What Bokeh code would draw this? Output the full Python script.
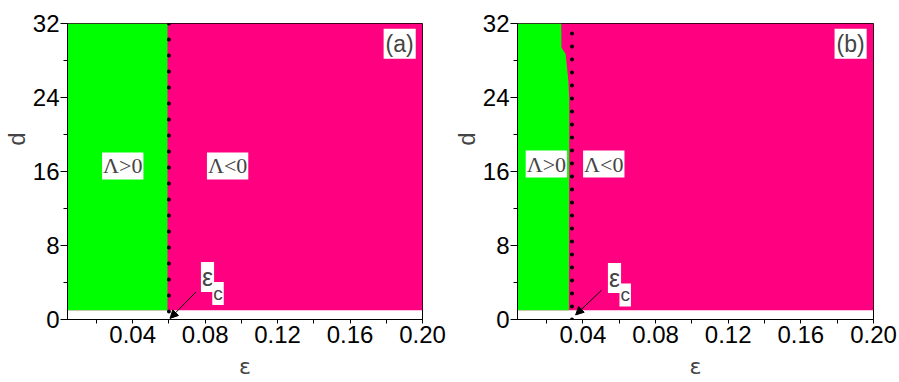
import math
from bokeh.plotting import figure
from bokeh.models import Label, Arrow, NormalHead, FixedTicker, Range1d, Title
from bokeh.layouts import row
from bokeh.embed import file_html
from bokeh.resources import INLINE

# ---------------- data ----------------
EPS_MIN, EPS_MAX = 0.004, 0.20
D_MIN, D_MAX = 0.0, 32.0
D_LOW = 1.0  # smallest d in the computed map

x_major = [0.04, 0.08, 0.12, 0.16, 0.20]
x_minor = [0.02, 0.06, 0.10, 0.14, 0.18]
y_major = [0, 8, 16, 24, 32]
y_minor = [4, 12, 20, 28]

# panel (a): boundary between Lambda>0 and Lambda<0
bound_a_d = [1.0, 32.0]
bound_a_eps = [0.0592, 0.0592]
eps_c_a = 0.060

# panel (b)
bound_b_d = [1.0, 23.7, 25.8, 28.7, 29.4, 32.0]
bound_b_eps = [0.0323, 0.0325, 0.0320, 0.0305, 0.0282, 0.0281]
eps_c_b = 0.034

GREEN = "#00FF00"
PINK = "#FF0080"
SANS = "Liberation Sans"
SERIF = "Liberation Serif"


def panel(tag, bd, be, eps_c, lab_pos, ec_pos, arrow_start, arrow_end, dot_gap, dot_from_top,
          width, border_left, border_right):
    p = figure(width=width, height=382, output_backend="svg", toolbar_location=None,
               x_range=Range1d(EPS_MIN, EPS_MAX), y_range=Range1d(D_MIN, D_MAX),
               min_border_left=border_left, min_border_right=border_right,
               min_border_top=23, min_border_bottom=63)
    p.grid.visible = False
    p.background_fill_color = "white"
    p.outline_line_color = "black"
    p.outline_line_width = 1

    # regions
    p.quad(left=EPS_MIN, right=EPS_MAX, bottom=D_LOW, top=D_MAX,
           fill_color=PINK, line_color=None)
    xs = [EPS_MIN] + be + [EPS_MIN]
    ys = [bd[0]] + bd + [bd[-1]]
    p.patch(xs, ys, fill_color=GREEN, line_color=None)

    # dotted critical line
    ly = [D_MAX, D_MIN] if dot_from_top else [D_MIN, D_MAX]
    p.line([eps_c, eps_c], ly, line_color="black", line_width=4,
           line_dash="0 %d" % dot_gap, line_cap="round")

    # labels
    for (x, y), t in zip(lab_pos, ["\u039b>0", "\u039b<0"]):
        p.add_layout(Label(x=x, y=y, text=t, text_font=SERIF, text_font_size="22px",
                           text_align="center", text_baseline="middle",
                           background_fill_color="white", padding=1))
    p.add_layout(Label(x=0.1874, y=29.8, text="(%s)" % tag, text_font=SANS,
                       text_font_size="23px", text_align="center", text_baseline="middle",
                       background_fill_color="white", padding=2))
    (ex, ey), (cx, cy) = ec_pos
    p.add_layout(Label(x=ex, y=ey, text="\u03b5", text_font=SANS, text_font_size="25px",
                       text_align="center", text_baseline="middle",
                       background_fill_color="white", padding=1))
    p.add_layout(Label(x=cx, y=cy, text="c", text_font=SANS, text_font_size="19px",
                       text_align="center", text_baseline="middle",
                       background_fill_color="white", padding=1))
    p.add_layout(Arrow(end=NormalHead(size=8, fill_color="black", line_color="black"),
                       x_start=arrow_start[0], y_start=arrow_start[1],
                       x_end=arrow_end[0], y_end=arrow_end[1],
                       line_color="black", line_width=1))

    # axes
    p.xaxis.ticker = FixedTicker(ticks=x_major, minor_ticks=x_minor)
    p.yaxis.ticker = FixedTicker(ticks=y_major, minor_ticks=y_minor)
    p.xaxis.major_label_overrides = {v: "%.2f" % v for v in x_major}
    for ax in (p.xaxis[0], p.yaxis[0]):
        ax.axis_line_color = "black"
        ax.major_tick_line_color = "black"
        ax.minor_tick_line_color = "black"
        ax.major_tick_in = 0
        ax.minor_tick_in = 0
        ax.major_label_text_font = SANS
        ax.major_label_text_font_size = "24px"
        ax.major_label_text_color = "black"
    p.xaxis.major_tick_out = 4
    p.xaxis.minor_tick_out = 4
    p.yaxis.major_tick_out = 7
    p.yaxis.minor_tick_out = 4
    p.xaxis.major_label_standoff = 2
    p.yaxis.major_label_standoff = 1
    p.xaxis.axis_label = "\u03b5"
    p.xaxis.axis_label_text_font = "DejaVu Sans"
    p.xaxis.axis_label_text_font_size = "22px"
    p.xaxis.axis_label_text_font_style = "normal"
    p.xaxis.axis_label_standoff = 8
    p.add_layout(Title(text="\u2003\u2003\u2002\u2009d", text_font=SANS, text_font_size="24px",
                       text_font_style="normal", align="center",
                       standoff=0), "left")
    return p


pa = panel("a", bound_a_d, bound_a_eps, eps_c_a,
           lab_pos=[(0.0345, 16.6), (0.0924, 16.6)],
           ec_pos=[(0.0813, 4.6), (0.0871, 2.8)],
           arrow_start=(0.0748, 2.95), arrow_end=(0.0606, 0.12),
           dot_gap=16, dot_from_top=True, width=450, border_left=65, border_right=28)
pb = panel("b", bound_b_d, bound_b_eps, eps_c_b,
           lab_pos=[(0.0199, 16.8), (0.0515, 16.8)],
           ec_pos=[(0.0574, 4.5), (0.0633, 2.65)],
           arrow_start=(0.0502, 3.15), arrow_end=(0.0360, 0.5),
           dot_gap=13, dot_from_top=False, width=449, border_left=65, border_right=26)

layout = row(pa, pb)
open("out.html", "w").write(file_html(layout, INLINE))
